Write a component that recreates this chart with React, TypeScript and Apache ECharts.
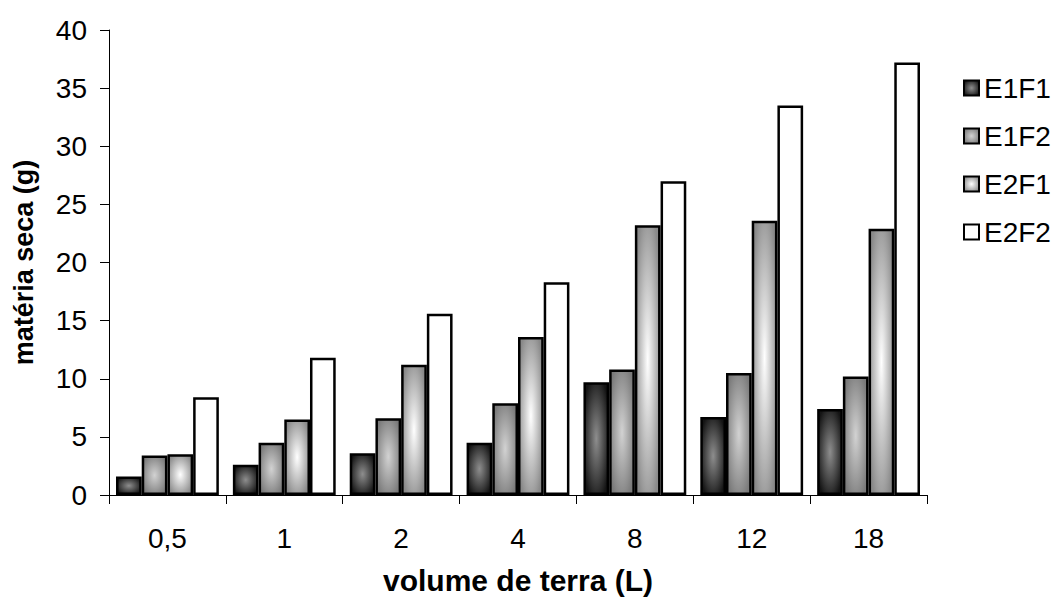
import React, { useEffect, useRef } from "react";
import * as echarts from "echarts";

const categories = ["0,5", "1", "2", "4", "8", "12", "18"];
const seriesNames = ["E1F1", "E1F2", "E2F1", "E2F2"];
const e1f1 = [1.6, 2.6, 3.6, 4.5, 9.7, 6.7, 7.4];
const e1f2 = [3.4, 4.5, 6.6, 7.9, 10.8, 10.5, 10.2];
const e2f1 = [3.5, 6.5, 11.2, 13.6, 23.2, 23.6, 22.9];
const e2f2 = [8.4, 11.8, 15.6, 18.3, 27.0, 33.5, 37.2];
const yTicks = { min: 0, max: 40, interval: 5 };

const FONT = "'Liberation Sans', Arial, sans-serif";

function radial(center: string, edge: string) {
  return new echarts.graphic.RadialGradient(0.5, 0.5, 0.6, [
    { offset: 0, color: center },
    { offset: 1, color: edge },
  ]);
}

export default function App() {
  const ref = useRef<HTMLDivElement>(null);

  useEffect(() => {
    document.body.style.margin = "0";
    if (!ref.current) return;
    const chart = echarts.init(ref.current, null, { renderer: "svg" });
    const fills = [
      radial("#8e8e8e", "#141414"),
      radial("#d2d2d2", "#7a7a7a"),
      radial("#ffffff", "#8a8a8a"),
      "#ffffff",
    ];
    const data = [e1f1, e1f2, e2f1, e2f2];
    chart.setOption({
      animation: false,
      backgroundColor: "#ffffff",
      textStyle: { fontFamily: FONT },
      grid: { left: 109, right: 133, top: 30, bottom: 106, containLabel: false },
      legend: {
        orient: "vertical",
        left: 958,
        top: 69,
        itemWidth: 15,
        itemHeight: 15,
        itemGap: 20,
        icon: "rect",
        textStyle: { fontSize: 28, color: "#000", fontFamily: FONT },
        data: seriesNames,
      },
      xAxis: {
        type: "category",
        data: categories,
        name: "volume de terra (L)",
        nameLocation: "middle",
        nameGap: 70,
        nameTextStyle: { fontSize: 30, fontWeight: "bold", color: "#000", fontFamily: FONT },
        axisLine: { lineStyle: { color: "#000", width: 1 } },
        axisTick: { show: true, length: 9, lineStyle: { color: "#000" } },
        axisLabel: { fontSize: 28, color: "#000", margin: 29, fontFamily: FONT },
      },
      yAxis: {
        type: "value",
        min: yTicks.min,
        max: yTicks.max,
        interval: yTicks.interval,
        name: "matéria seca (g)",
        nameLocation: "middle",
        nameGap: 72,
        nameTextStyle: { fontSize: 27, fontWeight: "bold", color: "#000", fontFamily: FONT },
        axisLine: { show: true, lineStyle: { color: "#000", width: 1 } },
        axisTick: { show: true, length: 9, lineStyle: { color: "#000" } },
        axisLabel: { fontSize: 28, color: "#000", margin: 22, fontFamily: FONT },
        splitLine: { show: false },
      },
      series: seriesNames.map((name, i) => ({
        name,
        type: "bar",
        data: data[i],
        barGap: "0%",
        barCategoryGap: "12%",
        itemStyle: { color: fills[i], borderColor: "#000", borderWidth: 2.5 },
      })),
    });
    return () => chart.dispose();
  }, []);

  return <div ref={ref} style={{ width: 1060, height: 601 }} />;
}
